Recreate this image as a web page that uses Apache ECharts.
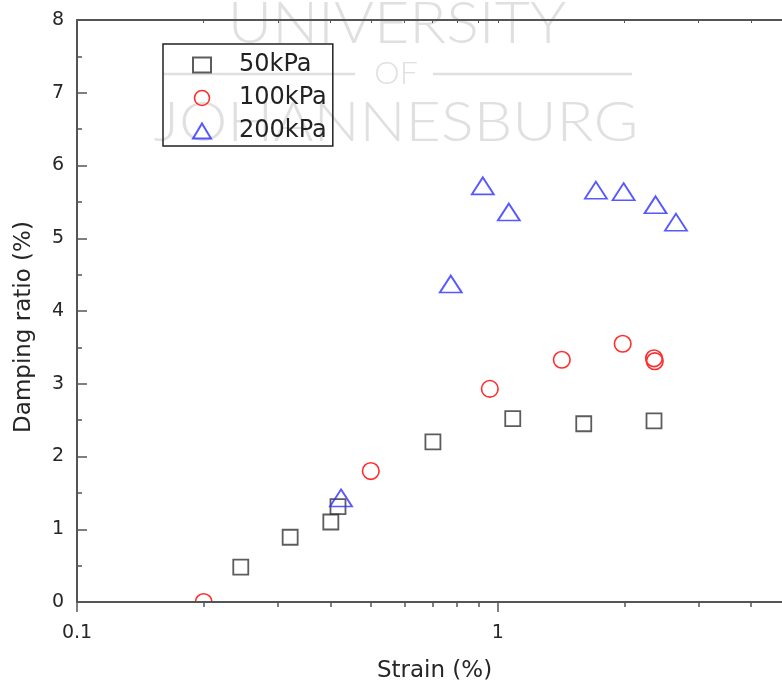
<!DOCTYPE html>
<html>
<head>
<meta charset="utf-8">
<script src="https://cdn.jsdelivr.net/npm/echarts@6/dist/echarts.min.js"></script>
<style>
  html, body { margin: 0; padding: 0; background: #fff; }
  #chart { width: 782px; height: 687px; }
</style>
</head>
<body>
<div id="chart"></div>
<script>
// Damping ratio vs strain for three confining pressures
const seriesNames = ['50kPa', '100kPa', '200kPa'];

const strain50 = [0.245, 0.321, 0.401, 0.417, 0.701, 1.085, 1.60, 2.35];
const damping50 = [0.48, 0.89, 1.10, 1.31, 2.20, 2.52, 2.45, 2.49];

const strain100 = [0.20, 0.499, 0.957, 1.419, 1.98, 2.35, 2.36];
const damping100 = [0.00, 1.80, 2.93, 3.33, 3.55, 3.35, 3.31];

const strain200 = [0.424, 0.773, 0.921, 1.062, 1.71, 1.99, 2.37, 2.65];
const damping200 = [1.43, 4.37, 5.72, 5.36, 5.66, 5.64, 5.46, 5.22];

const xMajorTicks = [0.1, 1];
const xMinorTicks = [0.2, 0.3, 0.4, 0.5, 0.6, 0.7, 0.8, 0.9, 2, 3, 4];
const yTickLabels = ['0', '1', '2', '3', '4', '5', '6', '7', '8'];

const pair = (xs, ys) => xs.map((x, i) => [x, ys[i]]);

const FONT = 'DejaVu Sans';
const AXIS_COLOR = '#555';
const TEXT_COLOR = '#262626';
const WM = '#e0e0e0';
const RED = '#ff2d2d';

const chart = echarts.init(document.getElementById('chart'), null, { renderer: 'canvas' });

const baseLogAxis = {
  type: 'log',
  logBase: 10,
  min: 0.1,
  max: 5,
  splitLine: { show: false },
  minorSplitLine: { show: false },
  zlevel: 1,
  z: 5
};

chart.setOption({
  backgroundColor: '#fff',
  animation: false,
  // the frame runs slightly past the right edge of the canvas
  grid: { left: 77, top: 20, width: 715, height: 582, containLabel: false, outerBoundsMode: 'none' },
  legend: {
    orient: 'vertical',
    left: 163,
    top: 44,
    padding: [9, 6, 3, 29],
    itemGap: 9,
    itemWidth: 18,
    itemHeight: 15,
    borderColor: '#222',
    borderWidth: 1.5,
    borderRadius: 0,
    textStyle: { fontFamily: FONT, fontSize: 24, lineHeight: 24, color: '#222', padding: [0, 0, 0, 23] },
    data: [
      { name: seriesNames[0] },
      { name: seriesNames[1], icon: 'circle', itemStyle: { color: 'transparent', borderColor: RED, borderWidth: 1.6 } },
      { name: seriesNames[2] }
    ],
    zlevel: 1,
    z: 6
  },
  graphic: {
    elements: [
      // watermark
      { type: 'text', x: 397, y: 24, scaleX: 1.05, silent: true,
        style: { text: 'UNIVERSITY', x: 0, y: 0, fill: WM, font: '300 58px Lato', textAlign: 'center', textVerticalAlign: 'middle' } },
      { type: 'text', x: 396, y: 74, silent: true,
        style: { text: 'OF', x: 0, y: 0, fill: WM, font: '300 32px Lato', textAlign: 'center', textVerticalAlign: 'middle' } },
      { type: 'line', silent: true, shape: { x1: 163, y1: 74, x2: 355, y2: 74 }, style: { stroke: WM, lineWidth: 2.5 } },
      { type: 'line', silent: true, shape: { x1: 433, y1: 74, x2: 632, y2: 74 }, style: { stroke: WM, lineWidth: 2.5 } },
      { type: 'text', x: 396, y: 123, scaleX: 1.09, silent: true,
        style: { text: 'JOHANNESBURG', x: 0, y: 0, fill: WM, font: '300 56px Lato', textAlign: 'center', textVerticalAlign: 'middle' } }
    ]
  },
  xAxis: [
    Object.assign({}, baseLogAxis, {
      position: 'bottom',
      name: 'Strain (%)',
      nameLocation: 'middle',
      nameGap: 58,
      nameTextStyle: { fontFamily: FONT, fontSize: 23, color: TEXT_COLOR },
      axisLine: { show: true, lineStyle: { color: AXIS_COLOR, width: 2 } },
      axisTick: { show: true, inside: false, length: 10, customValues: xMajorTicks, lineStyle: { color: AXIS_COLOR, width: 1.5 } },
      axisLabel: {
        show: true, margin: 22, customValues: xMajorTicks,
        fontFamily: FONT, fontSize: 19, color: TEXT_COLOR,
        formatter: v => String(Math.round(v * 10) / 10)
      }
    }),
    Object.assign({}, baseLogAxis, {
      position: 'bottom',
      axisLine: { show: false },
      axisTick: { show: true, inside: false, length: 5, customValues: xMinorTicks, lineStyle: { color: AXIS_COLOR, width: 1.5 } },
      axisLabel: { show: false }
    }),
    Object.assign({}, baseLogAxis, {
      position: 'top',
      axisLine: { show: true, lineStyle: { color: AXIS_COLOR, width: 2 } },
      axisTick: { show: true, inside: true, length: 3, customValues: xMajorTicks.concat(xMinorTicks), lineStyle: { color: AXIS_COLOR, width: 1 } },
      axisLabel: { show: false }
    })
  ],
  yAxis: {
    type: 'value',
    min: 0,
    max: 8,
    interval: 1,
    zlevel: 1,
    z: 5,
    name: 'Damping ratio (%)',
    nameLocation: 'middle',
    nameGap: 41,
    nameTextStyle: { fontFamily: FONT, fontSize: 23, color: TEXT_COLOR, padding: [0, 32, 0, 0] },
    axisLine: { show: true, lineStyle: { color: AXIS_COLOR, width: 2 } },
    axisTick: { show: true, inside: true, length: 10, lineStyle: { color: AXIS_COLOR, width: 1.5 } },
    minorTick: { show: true, splitNumber: 2, length: 5, lineStyle: { color: AXIS_COLOR, width: 1.5 } },
    splitLine: { show: false },
    minorSplitLine: { show: false },
    axisLabel: {
      margin: 13, fontFamily: FONT, fontSize: 19, color: TEXT_COLOR,
      formatter: v => yTickLabels[Math.round(v)]
    }
  },
  series: [
    {
      name: seriesNames[0], type: 'scatter', xAxisIndex: 0,
      symbol: 'rect', symbolSize: 15, symbolKeepAspect: true,
      itemStyle: { color: 'transparent', borderColor: '#333', borderWidth: 1.8 },
      data: pair(strain50, damping50), z: 2
    },
    {
      // drawn as a clipped custom series so a point on the axis is cut by the frame
      name: seriesNames[1], type: 'custom', xAxisIndex: 0, clip: true,
      encode: { x: 0, y: 1 },
      itemStyle: { color: 'transparent', borderColor: RED, borderWidth: 1.6 },
      renderItem: (params, api) => {
        const p = api.coord([api.value(0), api.value(1)]);
        return {
          type: 'circle',
          shape: { cx: p[0], cy: p[1], r: 8.3 },
          style: { fill: 'none', stroke: RED, lineWidth: 1.6 }
        };
      },
      data: pair(strain100, damping100), z: 2
    },
    {
      name: seriesNames[2], type: 'scatter', xAxisIndex: 0,
      symbol: 'triangle', symbolSize: [22, 17],
      itemStyle: { color: 'transparent', borderColor: '#2e2eff', borderWidth: 1.8 },
      data: pair(strain200, damping200), z: 2
    }
  ]
});
</script>
</body>
</html>
